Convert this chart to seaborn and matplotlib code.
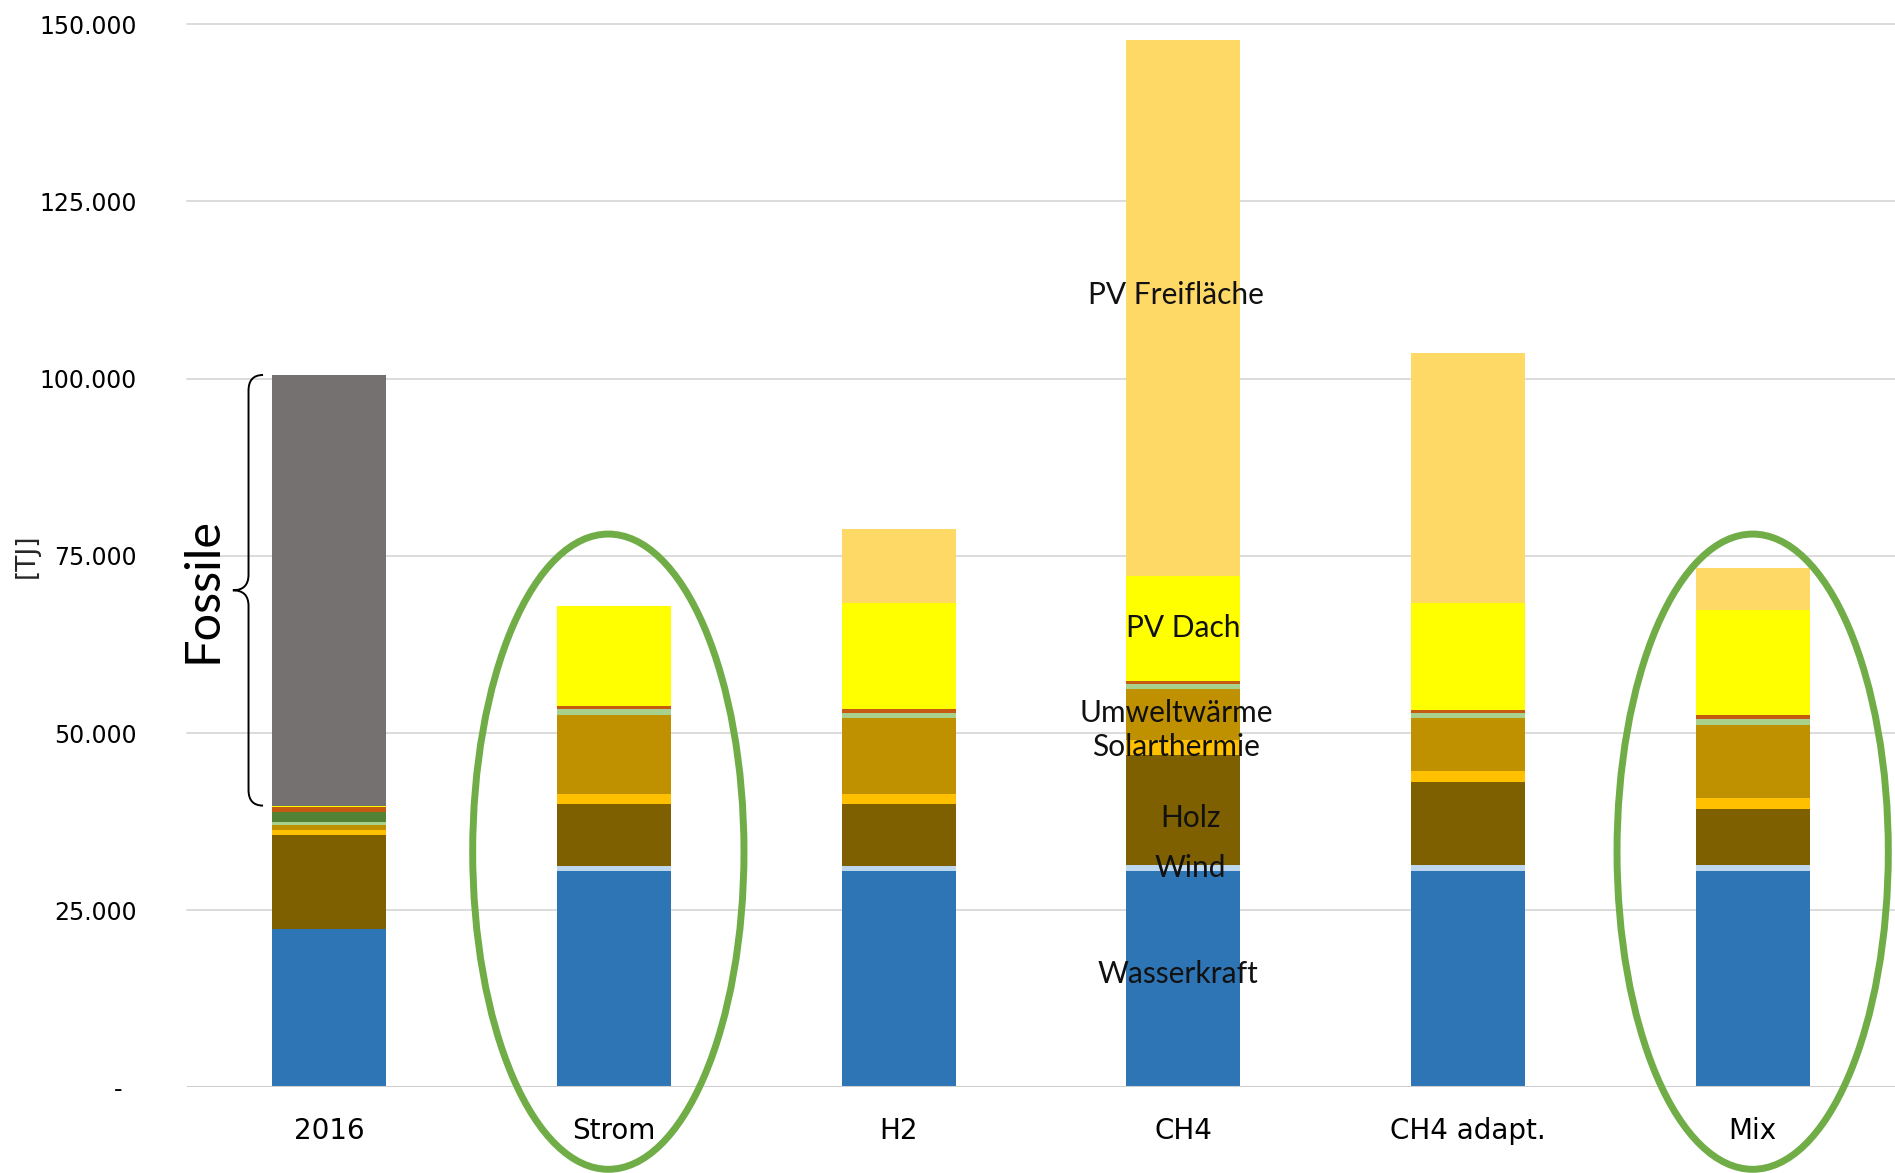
import numpy as np
import pandas as pd
import matplotlib
matplotlib.use("Agg")
import matplotlib.pyplot as plt
import seaborn as sns
from matplotlib.patches import Ellipse, PathPatch
from matplotlib.path import Path

# ---------------- data (TJ) ----------------
scenarios = ["2016", "Strom", "H2", "CH4", "CH4 adapt.", "Mix"]

wasserkraft   = [22290, 30580, 30580, 30580, 30580, 30580]
wind          = [0,       700,   700,   780,   800,   800]
holz          = [13370,  8760,  8760, 15600, 11750,  7940]
solarthermie  = [710,    1410,  1410,  2120,  1550,  1550]
umweltwaerme  = [710,   11020, 10600,  7060,  7490, 10310]
biogas        = [420,     850,   800,   750,   660,   850]
biomasse      = [1400,      0,     0,     0,     0,     0]
abfall        = [700,     420,   470,   430,   470,   460]
pv_dach       = [160,   14160, 15010, 14860, 15010, 14930]
pv_freiflaeche = [0,        0, 10410, 75600, 35270,  5790]
fossile       = [60740,     0,     0,     0,     0,     0]

series_names = ["Wasserkraft", "Wind", "Holz", "Solarthermie", "Umweltwärme",
                "Biogas", "Biomasse", "Abfall", "PV Dach", "PV Freifläche", "Fossile"]
series_values = [wasserkraft, wind, holz, solarthermie, umweltwaerme,
                 biogas, biomasse, abfall, pv_dach, pv_freiflaeche, fossile]
series_colors = ["#2E75B6", "#BDD7EE", "#7F6000", "#FFC000", "#BF9000",
                 "#A9D18E", "#548235", "#C55A11", "#FFFF00", "#FFD966", "#767171"]

labelled_series = ["Wasserkraft", "Wind", "Holz", "Solarthermie", "Umweltwärme",
                   "PV Dach", "PV Freifläche"]
# label nudges (points) relative to segment centre
label_nudge = {"Wasserkraft": (-4, 4), "Wind": (5, 0), "Holz": (5, -6),
               "Solarthermie": (-5, 0), "Umweltwärme": (-5, 1),
               "PV Dach": (0, 0), "PV Freifläche": (-5, 9)}
label_scenario = "CH4"
highlighted = ["Strom", "Mix"]

yticks = [0, 25000, 50000, 75000, 100000, 125000, 150000]
ytick_labels = ["-  ", "25.000", "50.000", "75.000", "100.000", "125.000", "150.000"]

# ---------------- figure ----------------
sns.set_theme(style="white")
plt.rcParams["font.family"] = ["DejaVu Sans"]

fig = plt.figure(figsize=(18.95, 11.73), dpi=100)
ax = fig.add_axes([0.0987, 0.0729, 0.9013, 0.9066])

vals = np.array(series_values, dtype=float)
cum = np.cumsum(vals, axis=0)

# draw cumulative totals from top layer down, lower layers overdraw
for i in range(len(series_names) - 1, -1, -1):
    sns.barplot(x=scenarios, y=cum[i], order=scenarios, color=series_colors[i],
                saturation=1, width=0.4, linewidth=0, errorbar=None, ax=ax, zorder=3)

ax.set_xlim(-0.5, len(scenarios) - 0.5)
ax.set_ylim(0, 150000)
ax.set_yticks(yticks)
ax.set_yticklabels(ytick_labels)
for y in yticks[1:]:
    ax.axhline(y, color="#D9D9D9", lw=1.3, zorder=1, clip_on=False)
ax.axhline(0, color="#CFCFCF", lw=1.5, zorder=4)
for s in ax.spines.values():
    s.set_visible(False)
ax.tick_params(axis="y", length=0, pad=36, labelsize=17)
ax.tick_params(axis="x", length=0, pad=21, labelsize=20)
ax.set_xlabel("")
ax.set_ylabel("[TJ]", fontsize=19)
ax.yaxis.set_label_coords(-0.086, 0.5)
for t in ax.get_xticklabels() + ax.get_yticklabels():
    t.set_color("black")

# data labels on CH4 bar
xi = scenarios.index(label_scenario)
for name in labelled_series:
    k = series_names.index(name)
    top = cum[k][xi]
    bottom = top - vals[k][xi]
    ax.annotate(name, xy=(xi, (top + bottom) / 2), xytext=label_nudge[name],
                textcoords="offset points", ha="center", va="center",
                fontsize=21.5, family=["Lato", "DejaVu Sans"], color="#111111", zorder=6)

# Fossile brace for 2016
k_f = series_names.index("Fossile")
f_top = cum[k_f][0]
f_bot = f_top - vals[k_f][0]
f_mid = (f_top + f_bot) / 2
x_r, x_v, x_t = -0.233, -0.284, -0.339
r = 2200
verts = [(x_r, f_top), (x_v, f_top), (x_v, f_top - r),
         (x_v, f_mid + r),
         (x_v, f_mid), (x_t, f_mid),
         (x_v, f_mid), (x_v, f_mid - r),
         (x_v, f_bot + r),
         (x_v, f_bot), (x_r, f_bot)]
codes = [Path.MOVETO, Path.CURVE3, Path.CURVE3,
         Path.LINETO,
         Path.CURVE3, Path.CURVE3,
         Path.CURVE3, Path.CURVE3,
         Path.LINETO,
         Path.CURVE3, Path.CURVE3]
ax.add_patch(PathPatch(Path(verts, codes), fill=False, edgecolor="black", lw=1.4,
                       zorder=5, clip_on=False))
ax.text(-0.445, f_mid, "Fossile", rotation=90, ha="center", va="center",
        fontsize=35, family=["Lato", "DejaVu Sans"], color="black", zorder=6)

# green ellipses
ell_dx = {"Strom": -0.02, "Mix": 0.0}
for sc in highlighted:
    xc = scenarios.index(sc) + ell_dx[sc]
    ax.add_patch(Ellipse((xc, 33260), width=0.953, height=89600, fill=False,
                         edgecolor="#70AD47", lw=5, zorder=7, clip_on=False))

fig.savefig("out.png", dpi=100)
